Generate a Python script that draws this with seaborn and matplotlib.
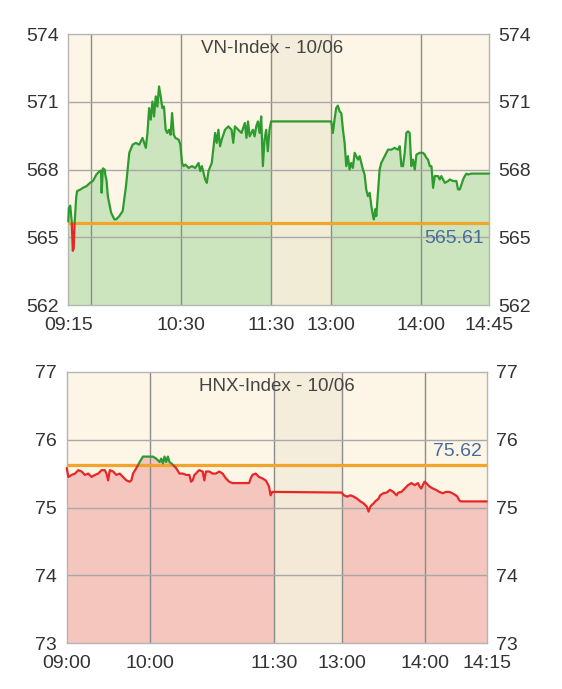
import numpy as np
import matplotlib
matplotlib.use("Agg")
import matplotlib.pyplot as plt
import seaborn as sns
from matplotlib.patches import Rectangle

# ---- data (time = minutes since 09:00) ----
vn_title = "VN-Index - 10/06"
vn_ref = 565.61
vn_am_t = [15.0, 15.4, 16.3, 17.3, 18.0, 18.6, 19.2, 20.3, 20.9, 22.7, 25.0, 27.1, 29.3, 31.5,
           33.7, 35.9, 36.8, 37.2, 38.0, 39.2, 39.8, 40.5, 41.3, 43.5, 45.7, 47.0, 49.0, 51.2,
           53.4, 55.6, 57.8, 60.0, 62.2, 64.4, 66.6, 67.7, 68.8, 69.9, 71.0, 72.1, 73.2, 74.3,
           75.4, 76.5, 77.6, 78.7, 79.8, 80.9, 82.0, 83.1, 84.1, 85.2, 86.3, 88.5, 89.6, 90.7,
           91.8, 92.9, 95.1, 97.3, 99.5, 101.7, 102.8, 103.9, 105.0, 106.1, 107.2, 108.3, 110.5,
           112.7, 113.8, 114.9, 116.0, 117.1, 119.3, 121.5, 123.7, 124.8, 125.9, 128.1, 130.3,
           132.5, 133.6, 134.6, 135.7, 137.9, 139.0, 140.1, 141.2, 142.3, 143.4, 144.5, 145.6,
           146.7, 147.8, 148.9, 150.0]
vn_am_v = [565.70, 566.30, 566.40, 565.70, 564.40, 564.50, 565.60, 566.80, 567.05, 567.10, 567.20,
           567.26, 567.40, 567.50, 567.78, 567.93, 567.95, 566.97, 568.05, 568.00, 567.71, 567.50,
           566.82, 566.09, 565.79, 565.80, 565.94, 566.16, 567.26, 568.74, 569.10, 569.18, 569.10,
           569.40, 568.96, 569.62, 570.72, 570.21, 571.01, 570.35, 571.24, 570.79, 571.68, 571.24,
           570.72, 570.79, 569.76, 569.62, 569.76, 569.54, 570.50, 569.54, 569.40, 569.32, 569.10,
           568.29, 568.15, 568.22, 568.07, 568.15, 568.07, 568.29, 567.93, 568.15, 567.85, 567.56,
           567.41, 567.93, 568.29, 569.62, 569.18, 569.76, 569.03, 569.32, 569.76, 569.91, 569.76,
           569.18, 569.91, 569.76, 569.62, 570.06, 569.40, 570.13, 569.47, 569.76, 569.47, 569.91,
           570.13, 569.62, 570.35, 568.15, 569.32, 569.76, 568.81, 569.76, 570.13]
vn_pm_t = [240.0, 241.1, 242.2, 243.3, 244.4, 245.6, 246.7, 247.8, 248.9, 250.0, 251.1, 252.2,
           253.3, 254.4, 255.6, 256.7, 257.8, 258.9, 260.0, 261.1, 262.2, 263.3, 264.4, 265.6,
           266.7, 267.8, 268.4, 269.3, 270.0, 271.1, 272.2, 273.3, 275.6, 276.7, 277.8, 280.0,
           282.2, 284.4, 285.6, 286.7, 287.8, 288.9, 290.0, 291.1, 292.2, 293.3, 294.4, 295.6,
           296.7, 298.9, 301.1, 302.2, 303.3, 304.4, 305.6, 306.7, 307.8, 308.9, 311.1, 312.2,
           313.3, 314.4, 315.6, 317.8, 318.9, 321.1, 323.3, 324.4, 325.6, 326.7, 327.8, 328.9,
           330.0, 331.1, 333.3, 345.0]
vn_pm_v = [570.13, 569.62, 570.21, 570.72, 570.83, 570.57, 570.50, 569.76, 569.18, 568.15, 568.59,
           568.00, 568.29, 568.07, 568.74, 568.59, 568.44, 568.59, 568.29, 568.00, 567.78, 567.12,
           566.82, 566.97, 566.38, 565.94, 565.79, 566.24, 565.94, 566.97, 568.00, 568.29, 568.59,
           568.74, 568.88, 568.88, 568.96, 568.88, 569.03, 568.15, 568.15, 568.74, 569.62, 569.69,
           569.62, 568.15, 568.44, 568.00, 568.66, 568.74, 568.74, 568.66, 568.52, 568.44, 568.15,
           568.15, 567.19, 567.71, 567.71, 567.56, 567.71, 567.56, 567.41, 567.49, 567.56, 567.49,
           567.49, 567.12, 567.12, 567.34, 567.56, 567.71, 567.82, 567.78, 567.82, 567.82]
vn_yticks = [562, 565, 568, 571, 574]
vn_tick_t = [15, 90, 150, 240, 300, 345]
vn_tick_labels = ["09:15", "10:30", "11:30", "13:00", "14:00", "14:45"]
vn_grid_t = [30, 90, 150, 240, 300]

hnx_title = "HNX-Index - 10/06"
hnx_ref = 75.62
hnx_am_t = [0.0, 1.2, 3.6, 6.0, 8.4, 10.8, 13.2, 15.6, 18.0, 20.4, 22.8, 25.2, 27.6, 28.8, 30.0,
            31.2, 33.6, 36.0, 38.4, 40.8, 43.2, 45.6, 46.8, 48.0, 50.4, 52.8, 55.2, 57.6, 60.0,
            62.4, 64.8, 67.2, 68.4, 69.6, 70.8, 72.0, 73.2, 74.4, 76.8, 79.2, 81.6, 84.0, 86.4,
            88.8, 90.0, 91.2, 92.4, 93.6, 94.8, 96.0, 98.4, 99.6, 100.8, 103.2, 105.6, 108.0,
            110.4, 112.8, 115.2, 117.6, 120.0, 124.8, 129.6, 132.0, 133.2, 134.4, 136.8, 139.2,
            141.6, 144.0, 145.2, 146.4, 147.6, 148.8, 150.0]
hnx_am_v = [75.58, 75.45, 75.48, 75.50, 75.55, 75.53, 75.48, 75.50, 75.45, 75.48, 75.50, 75.55,
            75.55, 75.50, 75.40, 75.55, 75.53, 75.48, 75.50, 75.45, 75.40, 75.38, 75.40, 75.50,
            75.58, 75.67, 75.75, 75.75, 75.75, 75.75, 75.72, 75.67, 75.72, 75.65, 75.75, 75.67,
            75.75, 75.67, 75.63, 75.58, 75.50, 75.50, 75.48, 75.48, 75.38, 75.40, 75.48, 75.50,
            75.53, 75.55, 75.53, 75.40, 75.53, 75.53, 75.50, 75.50, 75.53, 75.50, 75.43, 75.38,
            75.36, 75.36, 75.36, 75.36, 75.43, 75.48, 75.50, 75.45, 75.43, 75.40, 75.36, 75.31,
            75.18, 75.23, 75.23]
hnx_pm_t = [240.0, 241.7, 244.0, 246.4, 248.8, 251.2, 253.6, 256.0, 258.3, 259.5, 260.7, 261.9,
            263.1, 264.3, 266.7, 267.9, 270.2, 272.6, 275.0, 277.4, 279.8, 281.0, 283.3, 285.7,
            288.1, 290.5, 292.9, 295.2, 296.4, 297.6, 298.8, 300.0, 301.2, 303.6, 306.0, 308.3,
            310.7, 313.1, 315.5, 317.9, 320.2, 322.6, 323.8, 325.0, 326.2, 331.0, 345.0]
hnx_pm_v = [75.22, 75.18, 75.16, 75.18, 75.16, 75.13, 75.09, 75.06, 75.01, 74.94, 75.01, 75.04,
            75.06, 75.09, 75.13, 75.18, 75.21, 75.22, 75.26, 75.23, 75.18, 75.22, 75.23, 75.28,
            75.33, 75.36, 75.33, 75.36, 75.31, 75.28, 75.33, 75.38, 75.36, 75.31, 75.28, 75.26,
            75.23, 75.21, 75.23, 75.23, 75.21, 75.18, 75.16, 75.11, 75.09, 75.09, 75.09]
hnx_yticks = [73, 74, 75, 76, 77]
hnx_tick_t = [0, 60, 150, 240, 300, 345]
hnx_tick_labels = ["09:00", "10:00", "11:30", "13:00", "14:00", "14:15"]
hnx_grid_t = [60, 150, 240, 300]

# ---- style ----
sns.set_style("white")
plt.rcParams['font.family'] = ['Liberation Sans', 'DejaVu Sans']

BG = '#FDF5E6'
LUNCH = '#F5EDDA'
GREEN, GREEN_FILL = '#2E9B2E', '#CDE5BE'
RED, RED_FILL = '#E82626', '#F4C6BE'
ORANGE = '#F2A52C'
TXT = '#333333'


def to_axis(t, lunch_w):
    # compress the 11:30-13:00 break into lunch_w units
    t = np.asarray(t, dtype=float)
    return np.where(t <= 150, t, np.where(t >= 240, t - 90 + lunch_w,
                                          150 + (t - 150) / 90 * lunch_w))


def draw_index(ax, title, title_x, ref, t, v, yticks, tick_t, tick_labels, grid_t,
               lunch_w, fill_color, label_dy):
    x = to_axis(t, lunch_w)
    v = np.asarray(v)
    lo, hi = yticks[0], yticks[-1]
    ax.set_facecolor(BG)
    ax.fill_between(x, lo, v, color=fill_color, lw=0, zorder=1)
    ax.axvspan(150, 150 + lunch_w, color=LUNCH, alpha=0.88, lw=0, zorder=1.5)

    for g in grid_t:
        ax.axvline(float(to_axis(g, lunch_w)), color='#8c8c8c', lw=1.0, zorder=2)
    for yv in yticks[1:-1]:
        ax.axhline(yv, color='#a8a8a8', lw=1.0, zorder=2)

    ax.axhline(ref, color=ORANGE, lw=2.3, zorder=3)

    # line is green above the reference and red below
    span = hi - lo
    for color, (y0, y1) in [(GREEN, (ref, hi + span)), (RED, (lo - span, ref))]:
        sns.lineplot(x=x, y=v, ax=ax, color=color, lw=1.6, estimator=None, zorder=4)
        line = ax.lines[-1]
        clip = Rectangle((x.min() - 50, y0), x.max() - x.min() + 100, y1 - y0,
                         transform=ax.transData)
        line.set_clip_path(clip)

    x0, x1 = float(to_axis(tick_t[0], lunch_w)), float(to_axis(tick_t[-1], lunch_w))
    ax.set_xlim(x0, x1)
    ax.set_ylim(lo, hi)
    ax.set_xticks(to_axis(tick_t, lunch_w), tick_labels)
    ax.set_yticks(yticks, [str(y) for y in yticks])
    ax.tick_params(axis='x', length=0, pad=8.5, labelsize=14, labelcolor=TXT)
    ax.tick_params(axis='y', length=0, pad=7, labelsize=14, labelcolor=TXT,
                   left=False, right=False, labelleft=True, labelright=True)
    ax.set_xlabel("")
    ax.set_ylabel("")
    for s in ax.spines.values():
        s.set_color('#b5b5b5')
        s.set_linewidth(1.0)
        s.set_visible(True)

    ax.text(title_x, 0.945, title, transform=ax.transAxes, ha='center', va='center',
            fontsize=13.5, color='#444444')
    ax.annotate(f"{ref:.2f}", xy=(1, ref), xycoords=('axes fraction', 'data'),
                xytext=(-3.6, label_dy), textcoords='offset points',
                ha='right', va='center', fontsize=14, color='#4A6A9E', zorder=5)


fig = plt.figure(figsize=(5.62, 6.89), dpi=100)
fig.patch.set_facecolor('white')

ax1 = fig.add_axes([0.1215, 0.5573, 0.7486, 0.3933])
draw_index(ax1, vn_title, 0.485, vn_ref, vn_am_t + vn_pm_t, vn_am_v + vn_pm_v,
           vn_yticks, vn_tick_t, vn_tick_labels, vn_grid_t, 40, GREEN_FILL, -10.5)

ax2 = fig.add_axes([0.1187, 0.0663, 0.7473, 0.3942])
draw_index(ax2, hnx_title, 0.5, hnx_ref, hnx_am_t + hnx_pm_t, hnx_am_v + hnx_pm_v,
           hnx_yticks, hnx_tick_t, hnx_tick_labels, hnx_grid_t, 49, RED_FILL, 10.0)

fig.savefig("out.png", dpi=100)
